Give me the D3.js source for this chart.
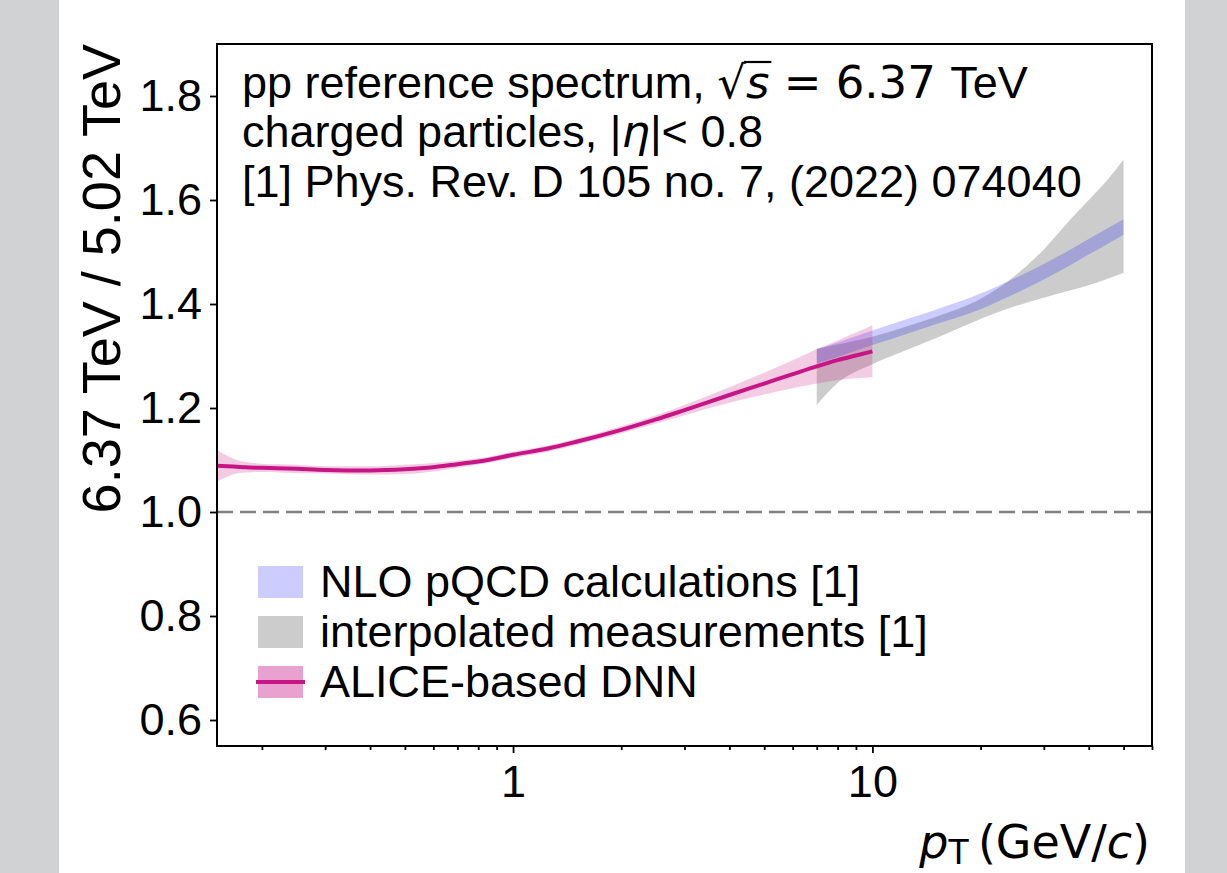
<!DOCTYPE html>
<html><head><meta charset="utf-8">
<script src="https://cdn.jsdelivr.net/npm/d3@7"></script>
<style>body{margin:0;background:#fff} svg{display:block}</style>
</head><body>
<svg id="c" width="1227" height="873"></svg>
<script>
// ---------- data ----------
const dnnPt    = [0.15,0.16,0.17,0.18,0.2,0.25,0.3,0.4,0.5,0.6,0.7,0.85,1.0,1.25,1.5,2.0,2.5,3.0,4.0,5.0,6.0,7.0,8.0,9.0,10.0];
const dnnRatio = [1.089,1.088,1.087,1.086,1.085,1.083,1.081,1.080,1.082,1.086,1.092,1.100,1.110,1.122,1.135,1.158,1.178,1.196,1.225,1.247,1.265,1.280,1.292,1.301,1.309];
const dnnErr   = [0.030,0.020,0.013,0.010,0.008,0.008,0.007,0.008,0.009,0.008,0.007,0.006,0.006,0.006,0.006,0.007,0.008,0.010,0.015,0.021,0.027,0.033,0.038,0.044,0.050];

const nloPt    = [7,8,10,12.5,15,20,25,30,35,40,45,50];
const nloRatio = [1.300,1.312,1.335,1.357,1.375,1.405,1.435,1.462,1.487,1.510,1.530,1.548];
const nloErr   = [0.014,0.014,0.014,0.014,0.014,0.015,0.015,0.015,0.015,0.015,0.015,0.015];

const measPt   = [7,8,10,12.5,15,20,25,30,35,40,45,50];
const measLow  = [1.206,1.248,1.284,1.312,1.334,1.371,1.396,1.412,1.425,1.436,1.448,1.460];
const measHigh = [1.313,1.322,1.337,1.357,1.375,1.410,1.455,1.505,1.557,1.600,1.638,1.678];

const yTicks = [0.6,0.8,1.0,1.2,1.4,1.6,1.8];
const xMajor = [1,10];
const xMinor = [0.2,0.3,0.4,0.5,0.6,0.7,0.8,0.9,2,3,4,5,6,7,8,9,20,30,40,50,60];
const legendLabels = ["NLO pQCD calculations [1]","interpolated measurements [1]","ALICE-based DNN"];

// ---------- setup ----------
const W=1227,H=873;
const svg=d3.select('#c');
const FONT="'Liberation Sans', Arial, sans-serif";
const DJ="'DejaVu Sans', sans-serif";
svg.append('rect').attr('width',W).attr('height',H).attr('fill','#fff');
svg.append('rect').attr('x',0).attr('y',0).attr('width',59).attr('height',H).attr('fill','#d1d2d4');
svg.append('rect').attr('x',1185).attr('y',0).attr('width',W-1185).attr('height',H).attr('fill','#d1d2d4');

const L=217,R=1152,T=44,B=746;
const x=d3.scaleLog().domain([0.15,60]).range([L,R]);
const y=d3.scaleLinear().domain([0.55,1.9]).range([B,T]);

svg.append('clipPath').attr('id','clip').append('rect').attr('x',L).attr('y',T).attr('width',R-L).attr('height',B-T);
const plot=svg.append('g').attr('clip-path','url(#clip)');

// dashed line at 1
plot.append('line').attr('x1',L).attr('x2',R).attr('y1',y(1)).attr('y2',y(1))
  .attr('stroke','#808080').attr('stroke-width',2.5).attr('stroke-dasharray','16,7');

const area=d3.area().x(d=>x(d.p)).y0(d=>y(d.lo)).y1(d=>y(d.hi)).curve(d3.curveMonotoneX);
const line=d3.line().x(d=>x(d.p)).y(d=>y(d.v)).curve(d3.curveMonotoneX);

const measData=measPt.map((p,i)=>({p,lo:measLow[i],hi:measHigh[i]}));
const nloData=nloPt.map((p,i)=>({p,lo:nloRatio[i]-nloErr[i],hi:nloRatio[i]+nloErr[i]}));
const dnnBand=dnnPt.map((p,i)=>({p,lo:dnnRatio[i]-dnnErr[i],hi:dnnRatio[i]+dnnErr[i]}));
const dnnLine=dnnPt.map((p,i)=>({p,v:dnnRatio[i]}));

plot.append('path').attr('d',area(measData)).attr('fill','#000').attr('fill-opacity',0.2);
plot.append('path').attr('d',area(nloData)).attr('fill','#0000ff').attr('fill-opacity',0.2);
plot.append('path').attr('d',area(dnnBand)).attr('fill','#c71585').attr('fill-opacity',0.22);
plot.append('path').attr('d',line(dnnLine)).attr('fill','none').attr('stroke','#c71585').attr('stroke-width',4);

// axes
const gx=svg.append('g').attr('transform',`translate(0,${B})`);
gx.call(d3.axisBottom(x).tickValues(xMajor).tickSize(7).tickPadding(12).tickFormat(d3.format('d')));
const gxm=svg.append('g').attr('transform',`translate(0,${B})`);
gxm.call(d3.axisBottom(x).tickValues(xMinor).tickSize(4).tickFormat(''));
const gy=svg.append('g').attr('transform',`translate(${L},0)`);
gy.call(d3.axisLeft(y).tickValues(yTicks).tickSize(7).tickPadding(8).tickFormat(d3.format('.1f')));
[gx,gxm,gy].forEach(g=>{
  g.select('.domain').remove();
  g.selectAll('line').attr('stroke','#000').attr('stroke-width',1.8);
  g.selectAll('text').attr('font-family',FONT).attr('font-size',45).attr('fill','#000');
});

// frame
svg.append('rect').attr('x',L).attr('y',T).attr('width',R-L).attr('height',B-T)
  .attr('fill','none').attr('stroke','#000').attr('stroke-width',2);

// y label
svg.append('text').attr('transform',`translate(120,${T}) rotate(-90)`)
  .attr('text-anchor','end').attr('font-family',FONT).attr('font-size',54)
  .text('6.37 TeV / 5.02 TeV');

// x label
const xl=svg.append('text').attr('x',1150).attr('y',858).attr('text-anchor','end')
  .attr('font-family',DJ).attr('font-size',46);
xl.append('tspan').attr('font-style','italic').text('p');
xl.append('tspan').attr('font-size',33).attr('dy',6).text('T');
xl.append('tspan').attr('dy',-6).text('\u2009(GeV/');
xl.append('tspan').attr('font-style','italic').text('c');
xl.append('tspan').text(')');

// annotation
const ann=svg.append('g').attr('font-family',FONT).attr('font-size',45);
const t1=ann.append('text').attr('x',242).attr('y',98);
t1.append('tspan').text('pp reference spectrum, ');
t1.append('tspan').attr('font-family',DJ).text('\u221A');
t1.append('tspan').attr('font-family',DJ).attr('font-style','italic').text('s');
t1.append('tspan').attr('font-family',DJ).text(' = 6.37 ');
t1.append('tspan').text('TeV');
{
  const node=t1.node();
  const idx='pp reference spectrum, \u221A'.length;
  const e=node.getExtentOfChar(idx);
  const er=node.getExtentOfChar(idx-1);
  ann.append('line').attr('x1',er.x+er.width-2).attr('x2',e.x+e.width+2)
    .attr('y1',e.y+6).attr('y2',e.y+6).attr('stroke','#000').attr('stroke-width',2.2);
}
const t2=ann.append('text').attr('x',242).attr('y',147);
t2.append('tspan').text('charged particles, |');
t2.append('tspan').attr('font-family',DJ).attr('font-style','italic').text('\u03B7');
t2.append('tspan').text('|< 0.8');
ann.append('text').attr('x',242).attr('y',197).text('[1] Phys. Rev. D 105 no. 7, (2022) 074040');

// legend
const lg=svg.append('g').attr('font-family',FONT).attr('font-size',45);
const rows=[597,647,697];
const patchFill=['#ccccff','#cccccc','#e9a2cf'];
rows.forEach((by,i)=>{
  lg.append('rect').attr('x',258).attr('y',by-31).attr('width',45).attr('height',32).attr('fill',patchFill[i]);
  lg.append('text').attr('x',320).attr('y',by).text(legendLabels[i]);
});
lg.append('line').attr('x1',256).attr('x2',305).attr('y1',682).attr('y2',682).attr('stroke','#c71585').attr('stroke-width',4);
</script>
</body></html>
